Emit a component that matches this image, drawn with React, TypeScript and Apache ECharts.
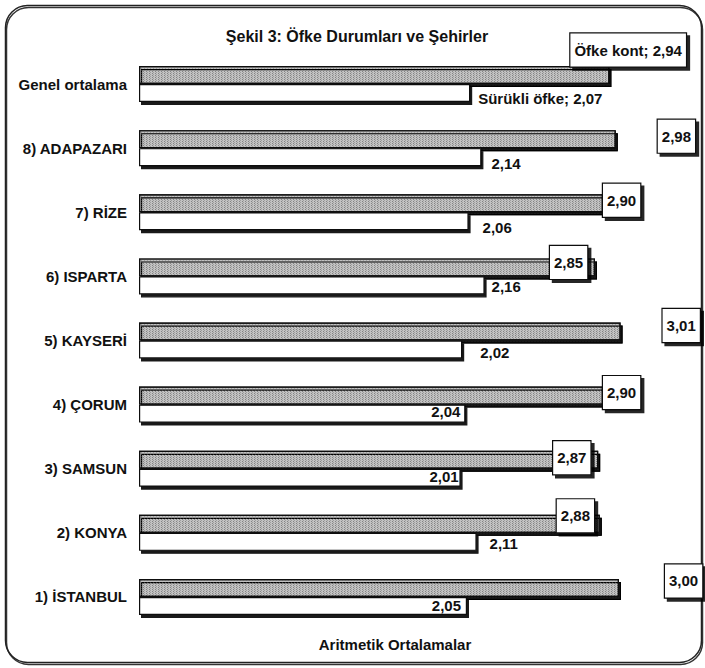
import React, { useEffect, useRef } from "react";
import * as echarts from "echarts";

const categories = [
  "Genel ortalama",
  "8) ADAPAZARI",
  "7) RİZE",
  "6) ISPARTA",
  "5) KAYSERİ",
  "4) ÇORUM",
  "3) SAMSUN",
  "2) KONYA",
  "1) İSTANBUL",
];
const ofkeKont = [2.94, 2.98, 2.9, 2.85, 3.01, 2.9, 2.87, 2.88, 3.0];
const surukliOfke = [2.07, 2.14, 2.06, 2.16, 2.02, 2.04, 2.01, 2.11, 2.05];

const titleText = "Şekil 3: Öfke Durumları ve Şehirler";
const axisTitle = "Aritmetik Ortalamalar";

// label placement (style only)
const kontShift = [
  [-39, -25], [42, -3], [0, -3], [-45, -5], [42, -6], [0, -3], [-45, -2], [-43, -8], [46, -7],
];
const surPlace = [
  { position: "right", offset: [8, 5] },
  { position: "right", offset: [10, 6] },
  { position: "right", offset: [14, 6] },
  { position: "right", offset: [7, 1] },
  { position: "right", offset: [18, 3] },
  { position: "insideRight", offset: [-5, -2] },
  { position: "insideRight", offset: [-2, -1] },
  { position: "right", offset: [13, 2] },
  { position: "insideRight", offset: [-6, 0] },
];

const FONT = "'Liberation Sans', Arial, sans-serif";
const fmt = (v: number) => v.toFixed(2).replace(".", ",");

export default function App() {
  const ref = useRef<HTMLDivElement>(null);
  useEffect(() => {
    if (!ref.current) return;
    const chart = echarts.init(ref.current, undefined, { renderer: "svg" });
    const barShadow = {
      borderColor: "#111",
      borderWidth: 1.2,
      shadowColor: "rgba(0,0,0,0.9)",
      shadowOffsetX: 2,
      shadowOffsetY: 3,
      shadowBlur: 0.5,
    };
    chart.setOption({
      animation: false,
      backgroundColor: "#fff",
      textStyle: { fontFamily: FONT },
      title: {
        text: titleText,
        left: 352,
        top: 23,
        textAlign: "center",
        textStyle: { fontFamily: FONT, fontSize: 16, fontWeight: "bold", color: "#111" },
      },
      graphic: [
        {
          type: "rect",
          left: 3,
          top: 3,
          shape: { width: 696, height: 657, r: 22 },
          style: {
            fill: "none",
            stroke: "#222",
            lineWidth: 1.5,
            shadowColor: "rgba(0,0,0,0.8)",
            shadowOffsetX: 1,
            shadowOffsetY: 2,
            shadowBlur: 0.5,
          },
          silent: true,
          z: -1,
        },
      ],
      grid: { left: 139, right: 6, top: 52, bottom: 39, containLabel: false },
      xAxis: {
        type: "value",
        min: 0,
        max: 3.5,
        axisLine: { show: false },
        axisTick: { show: false },
        axisLabel: { show: false },
        splitLine: { show: false },
        name: axisTitle,
        nameLocation: "middle",
        nameGap: 8,
        nameTextStyle: {
          fontFamily: FONT,
          fontSize: 15,
          fontWeight: "bold",
          color: "#111",
          padding: [0, 48, 0, 0],
        },
      },
      yAxis: {
        type: "category",
        data: categories,
        inverse: true,
        axisLine: { show: false },
        axisTick: { show: false },
        axisLabel: {
          margin: 12,
          fontFamily: FONT,
          fontSize: 15,
          fontWeight: "bold",
          color: "#111",
        },
      },
      series: [
        {
          name: "Öfke kont",
          type: "bar",
          barWidth: 18,
          barGap: "0%",
          data: ofkeKont.map((v, i) => ({ value: v, label: { offset: kontShift[i] } })),
          itemStyle: {
            color: "#c2c2c2",
            ...barShadow,
            decal: {
              symbol: "rect",
              symbolSize: 0.8,
              color: "rgba(80,80,80,0.4)",
              dashArrayX: [1, 2],
              dashArrayY: [1, 1],
              rotation: 0,
            },
          },
          label: {
            show: true,
            position: "right",
            distance: 0,
            formatter: (p: any) =>
              p.dataIndex === 0 ? `${p.seriesName}; ${fmt(p.value)}` : fmt(p.value),
            fontFamily: FONT,
            fontSize: 15,
            fontWeight: "bold",
            color: "#111",
            backgroundColor: "#fff",
            borderColor: "#111",
            borderWidth: 1.2,
            padding: [9, 4, 9, 4],
            shadowColor: "rgba(0,0,0,0.85)",
            shadowOffsetX: 3,
            shadowOffsetY: 3,
            shadowBlur: 0.5,
          },
        },
        {
          name: "Sürükli öfke",
          type: "bar",
          barWidth: 18,
          barGap: "0%",
          data: surukliOfke.map((v, i) => ({
            value: v,
            label: { position: surPlace[i].position, offset: surPlace[i].offset },
          })),
          itemStyle: { color: "#fff", ...barShadow },
          label: {
            show: true,
            position: "right",
            distance: 0,
            formatter: (p: any) =>
              p.dataIndex === 0 ? `${p.seriesName}; ${fmt(p.value)}` : fmt(p.value),
            fontFamily: FONT,
            fontSize: 15,
            fontWeight: "bold",
            color: "#111",
          },
        },
      ],
    });
    return () => chart.dispose();
  }, []);
  return (
    <div
      ref={ref}
      style={{ position: "fixed", left: 0, top: 0, width: 705, height: 668 }}
    />
  );
}
